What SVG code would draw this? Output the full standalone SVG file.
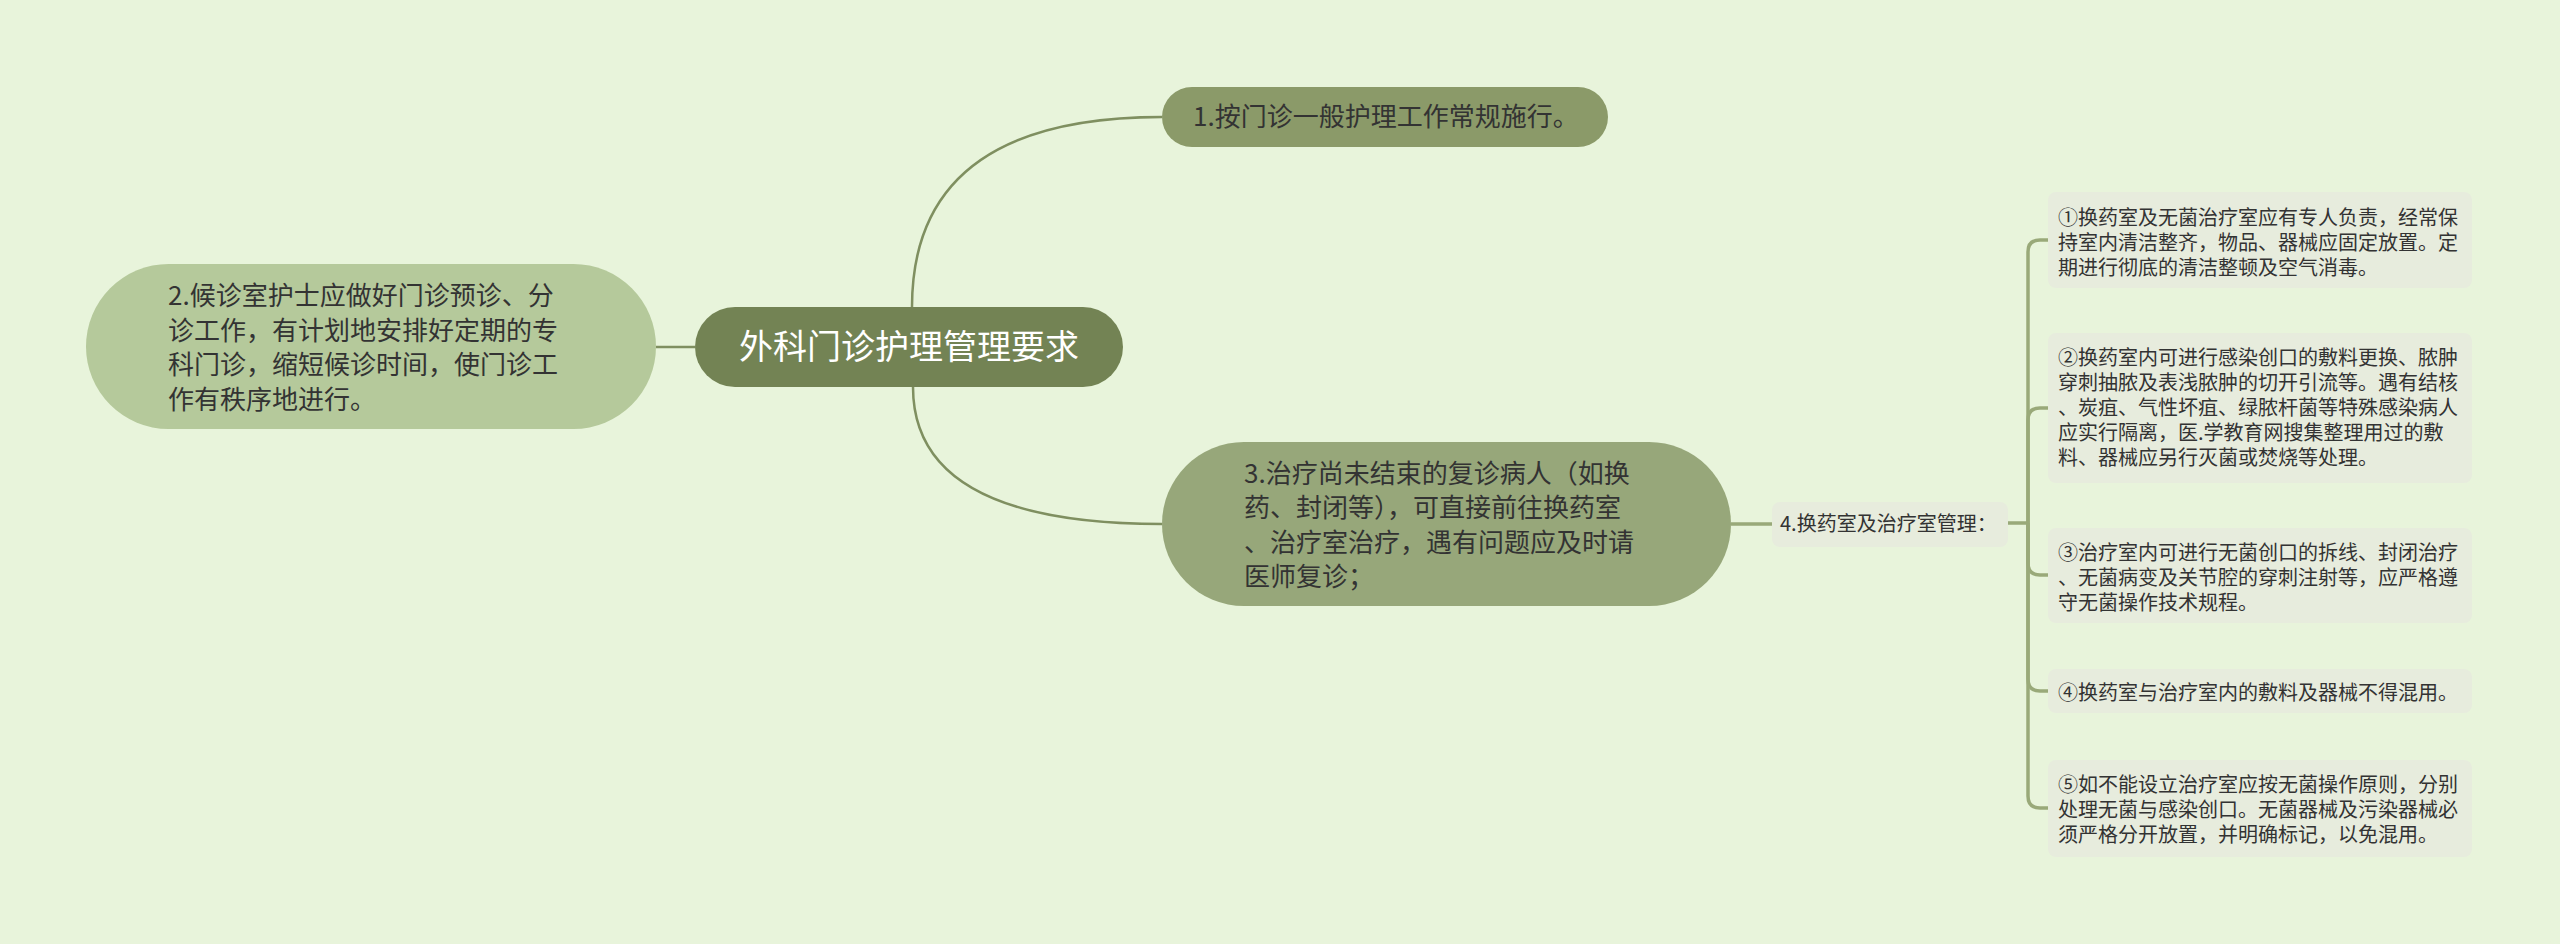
<svg xmlns="http://www.w3.org/2000/svg" width="2560" height="944" viewBox="0 0 2560 944">
<style>
text{font-family:"Noto Sans CJK SC","Noto Sans",sans-serif;fill:#333;}
.root text{fill:#fff;font-size:34px;}
.l1 text{font-size:26px;}
.l2 text{font-size:20px;}
.leaf text{font-size:20px;}
.leaf rect,.l2 rect{fill:#e7ecdd;}
.conn path{fill:none;stroke:#7f8f60;stroke-width:2.5;}
.conn .br{stroke:#99a979;stroke-width:3.5;}
</style>
<rect width="2560" height="944" fill="#e8f4db"/>
<g class="conn">
<path d="M912,307 Q912,117 1162,117"/>
<path d="M913,387 Q913,524 1162,524"/>
<path d="M695,347 H656" stroke="#b5c99b"/>
<path class="br" d="M1731,524 H1772"/>
<path class="br" d="M2008,523 H2028"/>
<path class="br" d="M2028,523 V252 Q2028,240 2040,240 H2048"/>
<path class="br" d="M2028,523 V420 Q2028,408 2040,408 H2048"/>
<path class="br" d="M2028,523 V563 Q2028,575 2040,575 H2048"/>
<path class="br" d="M2028,523 V679 Q2028,691 2040,691 H2048"/>
<path class="br" d="M2028,523 V796 Q2028,808 2040,808 H2048"/>
</g>
<g id="root" class="root">
<rect x="695" y="307" width="428" height="80" rx="40" fill="#738354"/>
<text x="909" y="359" text-anchor="middle">外科门诊护理管理要求</text>
</g>
<g id="n1" class="l1">
<rect x="1162" y="87" width="446" height="60" rx="30" fill="#8b9a69"/>
<text x="1193" y="126">1.按门诊一般护理工作常规施行。</text>
</g>
<g id="n2" class="l1">
<rect x="86" y="264" width="570" height="165" rx="82.5" fill="#b5c99b"/>
<text x="168" y="305">2.候诊室护士应做好门诊预诊、分</text>
<text x="168" y="339.5">诊工作，有计划地安排好定期的专</text>
<text x="168" y="374">科门诊，缩短候诊时间，使门诊工</text>
<text x="168" y="408.5">作有秩序地进行。</text>
</g>
<g id="n3" class="l1">
<rect x="1162" y="442" width="569" height="164" rx="82" fill="#97a77a"/>
<text x="1244" y="482.5">3.治疗尚未结束的复诊病人（如换</text>
<text x="1244" y="517">药、封闭等），可直接前往换药室</text>
<text x="1244" y="551.5">、治疗室治疗，遇有问题应及时请</text>
<text x="1244" y="586">医师复诊；</text>
</g>
<g id="n4" class="l2">
<rect x="1772" y="502" width="236" height="45" rx="8"/>
<text x="1780" y="531">4.换药室及治疗室管理：</text>
</g>
<g id="c1" class="leaf">
<rect x="2048" y="192" width="424" height="96" rx="8"/>
<text x="2058" y="225">①换药室及无菌治疗室应有专人负责，经常保</text>
<text x="2058" y="250">持室内清洁整齐，物品、器械应固定放置。定</text>
<text x="2058" y="275">期进行彻底的清洁整顿及空气消毒。</text>
</g>
<g id="c2" class="leaf">
<rect x="2048" y="333" width="424" height="150" rx="8"/>
<text x="2058" y="365">②换药室内可进行感染创口的敷料更换、脓肿</text>
<text x="2058" y="390">穿刺抽脓及表浅脓肿的切开引流等。遇有结核</text>
<text x="2058" y="415">、炭疽、气性坏疽、绿脓杆菌等特殊感染病人</text>
<text x="2058" y="440">应实行隔离，医.学教育网搜集整理用过的敷</text>
<text x="2058" y="465">料、器械应另行灭菌或焚烧等处理。</text>
</g>
<g id="c3" class="leaf">
<rect x="2048" y="528" width="424" height="95" rx="8"/>
<text x="2058" y="560">③治疗室内可进行无菌创口的拆线、封闭治疗</text>
<text x="2058" y="585">、无菌病变及关节腔的穿刺注射等，应严格遵</text>
<text x="2058" y="610">守无菌操作技术规程。</text>
</g>
<g id="c4" class="leaf">
<rect x="2048" y="669" width="424" height="44" rx="8"/>
<text x="2058" y="700">④换药室与治疗室内的敷料及器械不得混用。</text>
</g>
<g id="c5" class="leaf">
<rect x="2048" y="760" width="424" height="97" rx="8"/>
<text x="2058" y="792">⑤如不能设立治疗室应按无菌操作原则，分别</text>
<text x="2058" y="817">处理无菌与感染创口。无菌器械及污染器械必</text>
<text x="2058" y="842">须严格分开放置，并明确标记，以免混用。</text>
</g>
</svg>
